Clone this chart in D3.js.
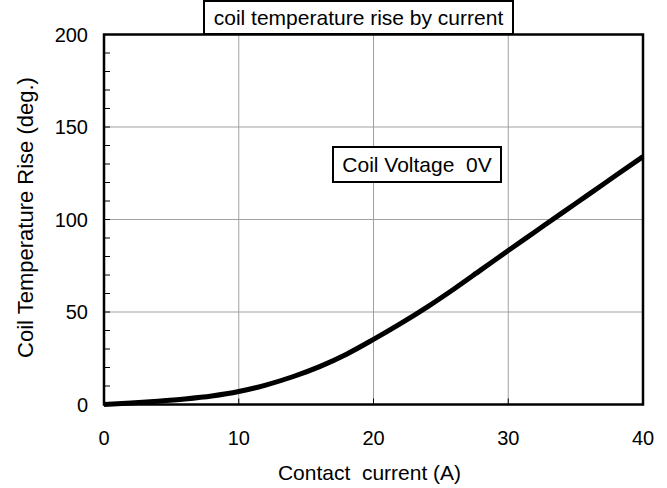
<!DOCTYPE html>
<html><head><meta charset="utf-8">
<script src="https://cdn.jsdelivr.net/npm/d3@7"></script>
<style>body{margin:0;background:#fff;} svg{display:block;} text{font-family:"Liberation Sans",Arial,sans-serif;fill:#000;}</style>
</head><body><svg id="c" width="667" height="488"></svg>
<script>
const currentA = [0,2,4,6,8,10,12,14,16,18,20,22,24,26,28,30,32,34,36,38,40];
const tempRise = [0,0.8,1.8,3,4.6,7,10.5,15,20.5,27.2,35.2,43.7,52.8,62.6,72.9,83.2,93.4,103.6,113.7,123.9,134];
const xTicks = [0,10,20,30,40];
const yTicks = [0,50,100,150,200];
const yMinor = d3.range(0,201,10);
const titleText = "coil temperature rise by current";
const legendText = "Coil Voltage\u00a0\u00a00V";
const xLabel = "Contact\u00a0\u00a0current (A)";
const yLabel = "Coil Temperature Rise (deg.)";

const svg = d3.select("#c");
const L=104, R=643, T=34.5, B=404.5;
const x = d3.scaleLinear().domain([0,40]).range([L,R]);
const y = d3.scaleLinear().domain([0,200]).range([B,T]);

// grid
svg.append("g").selectAll("line").data(xTicks.slice(1,-1)).join("line")
  .attr("x1",d=>x(d)).attr("x2",d=>x(d)).attr("y1",T).attr("y2",B)
  .attr("stroke","#a0a0a0").attr("stroke-width",1);
svg.append("g").selectAll("line").data(yTicks.slice(1,-1)).join("line")
  .attr("y1",d=>y(d)).attr("y2",d=>y(d)).attr("x1",L).attr("x2",R)
  .attr("stroke","#a0a0a0").attr("stroke-width",1);

// minor y ticks inside
svg.append("g").selectAll("line").data(yMinor).join("line")
  .attr("x1",L).attr("x2",L+6).attr("y1",d=>y(d)).attr("y2",d=>y(d))
  .attr("stroke","#000").attr("stroke-width",1);
// x ticks inside
svg.append("g").selectAll("line").data(xTicks).join("line")
  .attr("x1",d=>x(d)).attr("x2",d=>x(d)).attr("y1",B).attr("y2",B-6)
  .attr("stroke","#000").attr("stroke-width",1);

// curve
const line = d3.line().x((d,i)=>x(currentA[i])).y(d=>y(d)).curve(d3.curveMonotoneX);
svg.append("path").datum(tempRise).attr("d",line).attr("fill","none")
  .attr("stroke","#000").attr("stroke-width",5).attr("stroke-linejoin","round");

// frame
svg.append("rect").attr("x",L).attr("y",T).attr("width",R-L).attr("height",B-T)
  .attr("fill","none").attr("stroke","#000").attr("stroke-width",2.5);

// tick labels
svg.append("g").selectAll("text").data(xTicks).join("text")
  .attr("x",d=>x(d)).attr("y",445).attr("text-anchor","middle")
  .attr("font-size",20).text(d=>d);
svg.append("g").selectAll("text").data(yTicks).join("text")
  .attr("x",88).attr("y",d=>y(d)+7).attr("text-anchor","end")
  .attr("font-size",20).text(d=>d);

// axis titles
svg.append("text").attr("x",x(20)-4).attr("y",480).attr("text-anchor","middle")
  .attr("font-size",21).text(xLabel);
svg.append("text").attr("transform",`translate(33,${(T+B)/2-2}) rotate(-90)`)
  .attr("text-anchor","middle").attr("font-size",22).text(yLabel);

// title box
svg.append("rect").attr("x",204).attr("y",1).attr("width",309).attr("height",33)
  .attr("fill","#fff").attr("stroke","#000").attr("stroke-width",2);
svg.append("text").attr("x",358.5).attr("y",25).attr("text-anchor","middle")
  .attr("font-size",21).text(titleText);

// legend box
svg.append("rect").attr("x",333).attr("y",147).attr("width",168).attr("height",35)
  .attr("fill","#fff").attr("stroke","#000").attr("stroke-width",2);
svg.append("text").attr("x",417).attr("y",172).attr("text-anchor","middle")
  .attr("font-size",21).text(legendText);
</script></body></html>
